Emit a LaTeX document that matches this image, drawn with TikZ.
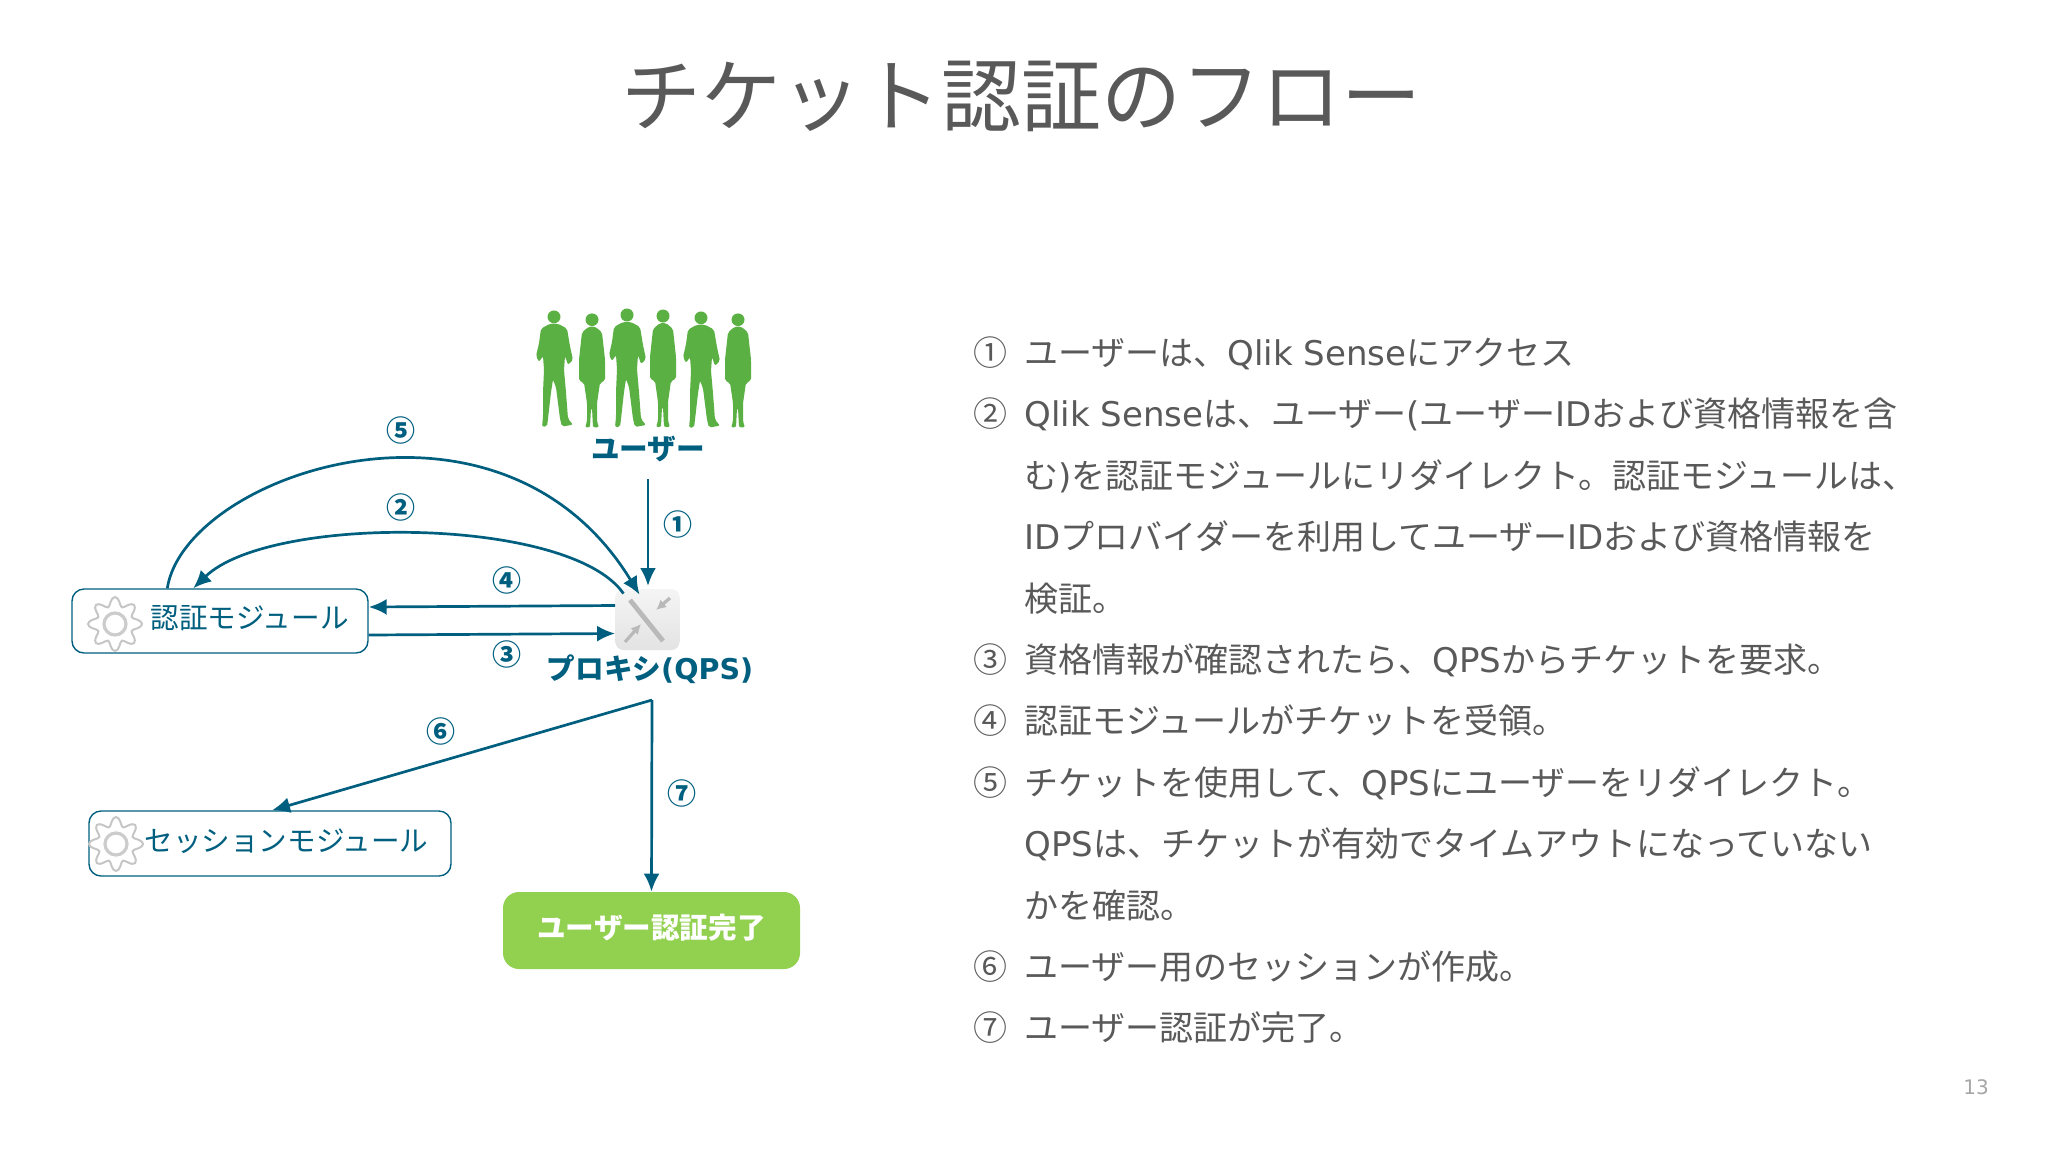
\documentclass[tikz,border=0pt]{standalone}
\usepackage{fontspec}
\usetikzlibrary{arrows.meta}
\setmainfont{Noto Sans CJK JP}
\newfontfamily\latfont{DejaVu Sans}
\newcommand{\la}[1]{{\latfont #1}}
\definecolor{flowteal}{HTML}{005F7F}
\definecolor{slidegray}{HTML}{595959}
\definecolor{donegreen}{HTML}{92D050}
\definecolor{crowdgreen}{HTML}{5BB044}
\tikzset{
  flow/.style={draw=flowteal,line width=1.35pt,-{Latex[length=9pt,width=8pt]}},
  modulebox/.style={draw=flowteal,line width=.7pt,rounded corners=6pt,fill=white},
  modulename/.style={text=flowteal,font=\fontsize{14.3}{16}\selectfont,inner sep=0pt},
  rolename/.style={text=flowteal,font=\fontsize{14.3}{16}\selectfont\bfseries,inner sep=0pt},
  steptag/.style={text=flowteal,font=\fontsize{14.5}{16}\selectfont\bfseries,inner sep=0pt},
  bodytext/.style={text=slidegray,font=\fontsize{17}{19}\selectfont,inner sep=0pt,text height=1em,text depth=.2em},
  man/.pic={
    \fill[crowdgreen] (0,8) circle[radius=6.5];
    \fill[crowdgreen,rounded corners=1pt] (-4,15) -- (4,15) -- (13,20) -- (16,38) -- (19,52) -- (14,57) -- (11,48) -- (10,62) -- (12,85) -- (14,112) -- (19,118) -- (8,120) -- (6,112) -- (2,80) -- (-1,72) -- (-3,85) -- (-6,112) -- (-7,120) -- (-12,120) -- (-11,110) -- (-11,85) -- (-10,62) -- (-11,48) -- (-15,54) -- (-18,48) -- (-15,35) -- (-13,20) -- cycle;
  },
  woman/.pic={
    \fill[crowdgreen] (0,9) circle[radius=6.5];
    \fill[crowdgreen,rounded corners=1pt] (-3,16) -- (3,16) -- (10,22) -- (13,50) -- (13,72) -- (8,74) -- (5,95) -- (5,114) -- (7,120) -- (1,120) -- (0,100) -- (-1,100) -- (-2,120) -- (-7,120) -- (-5,114) -- (-5,95) -- (-8,74) -- (-13,72) -- (-13,50) -- (-10,22) -- cycle;
  },
  gear/.pic={
    \draw[gray!45,line width=1pt] plot[smooth,samples=65,domain=0:360] (\x:{22.5+4.5*cos(8*\x)}) -- cycle;
    \draw[gray!40,line width=1.6pt] (0,0) circle[radius=11];
  }
}
\begin{document}
\begin{tikzpicture}[x=.5pt,y=-.5pt]
  \useasboundingbox (0,0) rectangle (2048,1152);
  \node[text=slidegray,font=\fontsize{40}{44}\selectfont,inner sep=0pt] (title) at (1021,96) {チケット認証のフロー};
  \foreach \kind/\px/\py/\sy in {man/554/309/.98,woman/592/311/.97,man/627/307/1,woman/663/307/1,man/701/310/.98,woman/738/311/.97}
    \pic[yscale=\sy] at (\px,\py) {\kind};
  \node[rolename] (user) at (648,449) {ユーザー};
  \node[modulebox,minimum width=148pt,minimum height=32pt] (auth) at (220,621) {};
  \node[modulebox,minimum width=181pt,minimum height=32.5pt] (session) at (270,843.5) {};
  \node[draw=none,fill=donegreen,rounded corners=8pt,minimum width=148.5pt,minimum height=38.5pt] (done) at (651.5,930.5) {};
  \node[top color=gray!8,bottom color=gray!22,rounded corners=4pt,minimum width=32pt,minimum height=30.5pt,inner sep=0pt] (proxy) at (647.5,619.5) {};
  \draw[gray!55,line width=2.4pt] (630,600) -- (663,641);
  \draw[gray!55,line width=1.6pt,-{Latex[length=5pt,width=5pt]}] (670,598) -- (656,610);
  \draw[gray!55,line width=1.6pt,-{Latex[length=5pt,width=5pt]}] (625,642) -- (641,624);
  \node[rolename] (proxyname) at (650,669) {プロキシ\la{(QPS)}};
  \pic at (115,624) {gear};
  \pic at (116,844) {gear};
  \node[modulename,anchor=west] (authname) at (150,618) {認証モジュール};
  \node[modulename,anchor=west] (sessionname) at (144,841) {セッションモジュール};
  \node[rolename,text=white] (donename) at (651.5,927.5) {ユーザー認証完了};
  \coordinate (userout) at (648,479);
  \coordinate (split) at (652,700);
  \draw[flow] (userout) -- (648,586);
  \draw[flow] ([xshift=48pt]auth.north west) .. controls (185,474) and (500,366) .. ([xshift=-4pt,yshift=-3pt]proxy.north);
  \draw[flow] ([xshift=-12pt,yshift=-2.5pt]proxy.north) .. controls (570,516) and (270,514) .. ([xshift=61pt]auth.north west);
  \draw[flow] ([yshift=7pt]proxy.west) -- ([yshift=7pt]auth.east);
  \draw[flow] ([yshift=-7pt]auth.east) -- ([yshift=-7pt]proxy.west);
  \draw[flow] (split) -- ([xshift=1pt]session.north);
  \draw[flow] (split) -- (done.north);
  \foreach \tag/\px/\py in {⑤/401/430,②/401/507,①/678/524,④/507/580,③/507/654,⑥/441/731,⑦/682/793}
    \node[steptag] (tag\tag) at (\px,\py) {\tag};
  \foreach \txt [count=\i] in {
    ユーザーは、\la{Qlik Sense}にアクセス,
    \la{Qlik Sense}は、ユーザー\la{(}ユーザー\la{ID}および資格情報を含,
    む\la{)}を認証モジュールにリダイレクト。認証モジュールは、,
    \la{ID}プロバイダーを利用してユーザー\la{ID}および資格情報を,
    検証。,
    資格情報が確認されたら、\la{QPS}からチケットを要求。,
    認証モジュールがチケットを受領。,
    チケットを使用して、\la{QPS}にユーザーをリダイレクト。,
    \la{QPS}は、チケットが有効でタイムアウトになっていない,
    かを確認。,
    ユーザー用のセッションが作成。,
    ユーザー認証が完了。}
    \node[bodytext,anchor=west] (line\i) at (1024,{296+61.4*\i}) {\txt};
  \foreach \num/\row in {①/1,②/2,③/6,④/7,⑤/8,⑥/11,⑦/12}
    \node[bodytext] (num\row) at (990,{296+61.4*\row}) {\num};
  \node[text=gray!70,font=\latfont\fontsize{10}{12}\selectfont,inner sep=0pt] (pageno) at (1976,1087) {13};
\end{tikzpicture}
\end{document}
